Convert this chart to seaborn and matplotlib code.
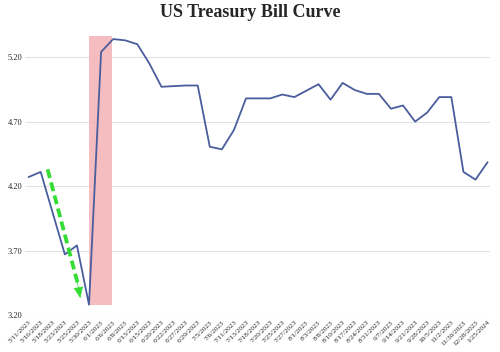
import pandas as pd
import matplotlib
matplotlib.use('Agg')
import matplotlib.pyplot as plt
import seaborn as sns

# Bill curve data
dates = ['5/11/2023', '5/16/2023', '5/18/2023', '5/23/2023', '5/25/2023', '5/30/2023',
         '6/1/2023', '6/6/2023', '6/8/2023', '6/13/2023', '6/15/2023', '6/20/2023',
         '6/22/2023', '6/27/2023', '6/29/2023', '7/5/2023', '7/6/2023', '7/11/2023',
         '7/13/2023', '7/18/2023', '7/20/2023', '7/25/2023', '7/27/2023', '8/1/2023',
         '8/3/2023', '8/8/2023', '8/10/2023', '8/17/2023', '8/24/2023', '8/31/2023',
         '9/7/2023', '9/14/2023', '9/21/2023', '9/28/2023', '10/5/2023', '11/2/2023',
         '11/30/2023', '12/28/2023', '1/25/2024']
yields = [4.27, 4.31, 3.99, 3.67, 3.74, 3.28,
          5.24, 5.34, 5.33, 5.30, 5.15, 4.97,
          4.975, 4.98, 4.98, 4.505, 4.485, 4.635,
          4.88, 4.88, 4.88, 4.91, 4.89, 4.94,
          4.99, 4.87, 5.00, 4.945, 4.915, 4.915,
          4.80, 4.825, 4.70, 4.77, 4.89, 4.89,
          4.31, 4.25, 4.385]
yticks = [3.20, 3.70, 4.20, 4.70, 5.20]

df = pd.DataFrame({'idx': range(len(dates)), 'date': dates, 'yield': yields})

sns.set_style('white')
plt.rcParams['font.family'] = ['Liberation Serif', 'DejaVu Serif']

fig = plt.figure(figsize=(5, 3.52), dpi=100)
ax = fig.add_axes([0.05, 0.105, 0.93, 0.795])

# highlighted window (debt ceiling resolution)
ax.fill_between([5.0, 6.9], 3.28, 5.36, color='#f4b6b8', alpha=0.9, lw=0, zorder=1)

sns.lineplot(data=df, x='idx', y='yield', color='#4a5d9c', lw=1.3, ax=ax, zorder=3)

# green dashed arrow: dashed shaft + solid head
ax.plot([1.57, 4.05], [4.33, 3.45], color='#33dd33', lw=2.7,
        linestyle=(0, (2.4, 1.2)), solid_capstyle='butt', zorder=4)
ax.annotate('', xy=(4.32, 3.31), xytext=(3.95, 3.50),
            arrowprops=dict(arrowstyle='-|>,head_width=0.3,head_length=0.7',
                            color='#33dd33', lw=0.5),
            zorder=4)

ax.set_ylim(3.20, 5.37)
ax.set_xlim(-0.3, len(dates) - 0.8)
ax.set_yticks(yticks)
ax.set_yticklabels([f'{v:.2f}' for v in yticks], fontsize=6)
ax.set_xticks(range(len(dates)))
ax.set_xticklabels(dates, rotation=45, ha='right', rotation_mode='anchor', fontsize=5.2)
ax.grid(axis='y', color='#e3e3e3', lw=0.8)
ax.tick_params(axis='y', length=0, pad=2)
ax.tick_params(axis='x', length=0, pad=3.5)
for s in ax.spines.values():
    s.set_visible(False)
ax.set_xlabel('')
ax.set_ylabel('')

fig.text(0.5, 0.965, 'US Treasury Bill Curve', ha='center', va='center',
         fontsize=13, fontweight='bold')

fig.savefig('out.png', dpi=100)
plt.close()
